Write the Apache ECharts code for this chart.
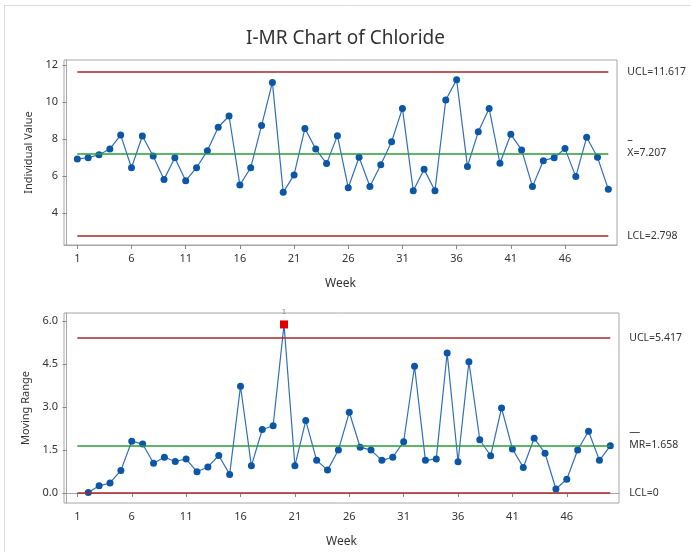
<!DOCTYPE html>
<html>
<head>
<meta charset="utf-8">
<title>I-MR Chart of Chloride</title>
<script src="https://cdn.jsdelivr.net/npm/echarts@6/dist/echarts.min.js"></script>
<style>
  html, body { margin: 0; padding: 0; background: #fff; }
  #chart { width: 691px; height: 552px; }
</style>
</head>
<body>
<div id="chart"></div>
<script>
// data
const weeks = [1, 2, 3, 4, 5, 6, 7, 8, 9, 10, 11, 12, 13, 14, 15, 16, 17, 18, 19, 20,
  21, 22, 23, 24, 25, 26, 27, 28, 29, 30, 31, 32, 33, 34, 35, 36, 37, 38, 39, 40,
  41, 42, 43, 44, 45, 46, 47, 48, 49, 50]
const chloride = [6.93, 7.00, 7.16, 7.47, 8.22, 6.46, 8.17, 7.09, 5.83, 7.00,
  5.76, 6.46, 7.38, 8.64, 9.25, 5.53, 6.46, 8.73, 11.06, 5.13,
  6.07, 8.58, 7.47, 6.68, 8.19, 5.38, 7.02, 5.45, 6.62, 7.86,
  9.66, 5.22, 6.37, 5.22, 10.11, 11.21, 6.53, 8.40, 9.66, 6.70,
  8.26, 7.42, 5.44, 6.84, 7.00, 7.49, 5.98, 8.10, 7.02, 5.30]
// moving range starts at week 2
const movingRange = [0.02, 0.25, 0.35, 0.79, 1.81, 1.71, 1.04, 1.25, 1.10,
  1.19, 0.74, 0.91, 1.31, 0.65, 3.73, 0.95, 2.22, 2.35, 5.89,
  0.95, 2.53, 1.14, 0.80, 1.50, 2.82, 1.60, 1.50, 1.14, 1.25,
  1.79, 4.43, 1.14, 1.19, 4.89, 1.09, 4.59, 1.86, 1.30, 2.97,
  1.54, 0.89, 1.91, 1.39, 0.14, 0.48, 1.50, 2.16, 1.14, 1.65]
const outOfControl = [20]   // weeks flagged by test 1 on the MR chart
const xTicks = [1, 6, 11, 16, 21, 26, 31, 36, 41, 46]
const iTicks = [4, 6, 8, 10, 12]
const mrTicks = [0, 1.5, 3, 4.5, 6]
const iLimits = { ucl: 11.617, cl: 7.207, lcl: 2.798 }
const mrLimits = { ucl: 5.417, cl: 1.658, lcl: 0 }

const red = '#a3282b'
const green = '#2b9a3a'
const blue = '#0b56a6'
const frame = '#a6a6a6'
const txt = '#333'
const font = 'Noto Sans'

const chart = echarts.init(document.getElementById('chart'))

const first = weeks[0]
const last = weeks[weeks.length - 1]
// 控制限线, 从第一周画到最后一周, 标签在右边
function limitLine(y, color, label) {
  const twoLines = label.indexOf('\n') >= 0
  return [
    {
      coord: [first, y], lineStyle: { color },
      label: {
        formatter: label, lineHeight: 13,
        padding: twoLines ? [0, 0, 14, 0] : 0,
        rich: { bar: { fontSize: 11, lineHeight: 13, color: txt } },
      },
    },
    { coord: [last, y] },
  ]
}

function xAxisOf(idx) {
  return {
    type: 'value', gridIndex: idx, min: -0.23, max: 50.8,
    name: 'Week', nameLocation: 'middle', nameGap: 33,
    nameTextStyle: { color: txt, fontSize: 12, fontFamily: font },
    axisLine: { lineStyle: { color: frame } },
    axisTick: { length: 4, lineStyle: { color: '#888' }, customValues: xTicks },
    axisLabel: { customValues: xTicks, color: txt, fontSize: 11, fontFamily: font, margin: 8 },
    splitLine: { show: false },
  }
}

const labelStyle = {
  position: 'end', distance: 19, color: txt, fontSize: 10.5, fontFamily: font, align: 'left',
}

const option = {
  backgroundColor: '#fff',
  animation: false,
  title: {
    text: 'I-MR Chart of Chloride', left: 'center', top: 24,
    textStyle: { color: txt, fontSize: 19, fontWeight: 'normal', fontFamily: font },
  },
  graphic: [{
    type: 'rect', shape: { x: 4.5, y: 5.5, width: 720, height: 600 },
    style: { fill: 'none', stroke: '#dcdcdc', lineWidth: 1 }, silent: true,
  }],
  grid: [
    { left: 64, top: 60, width: 553, height: 185, show: true, borderColor: frame, borderWidth: 1 },
    { left: 64, top: 313, width: 555, height: 190, show: true, borderColor: frame, borderWidth: 1 },
  ],
  xAxis: [xAxisOf(0), xAxisOf(1)],
  yAxis: [
    {
      type: 'value', gridIndex: 0, min: 2.29, max: 12.27,
      name: 'Individual Value', nameLocation: 'middle', nameGap: 26,
      nameTextStyle: { color: txt, fontSize: 11, fontFamily: font },
      axisLine: { show: true, lineStyle: { color: frame } },
      axisTick: { show: true, length: 4, lineStyle: { color: '#888' }, customValues: iTicks },
      axisLabel: { customValues: iTicks, color: txt, fontSize: 11, fontFamily: font, margin: 6 },
      splitLine: { show: false },
    },
    {
      type: 'value', gridIndex: 1, min: -0.35, max: 6.29,
      name: 'Moving Range', nameLocation: 'middle', nameGap: 29,
      nameTextStyle: { color: txt, fontSize: 11, fontFamily: font },
      axisLine: { show: true, lineStyle: { color: frame } },
      axisTick: { show: true, length: 4, lineStyle: { color: '#888' }, customValues: mrTicks },
      axisLabel: {
        customValues: mrTicks, color: txt, fontSize: 11, fontFamily: font, margin: 6,
        formatter: v => v.toFixed(1),
      },
      splitLine: { show: false },
    },
  ],
  series: [
    {
      name: 'Individual Value',
      type: 'line', xAxisIndex: 0, yAxisIndex: 0,
      data: weeks.map((w, i) => [w, chloride[i]]),
      symbol: 'circle', symbolSize: 7,
      lineStyle: { color: '#2f6fba', width: 1.2 },
      itemStyle: { color: blue },
      z: 3,
      markLine: {
        silent: true, symbol: 'none',
        lineStyle: { width: 1.6, type: 'solid' },
        label: labelStyle,
        data: [
          limitLine(iLimits.ucl, red, 'UCL=' + iLimits.ucl),
          limitLine(iLimits.cl, green, '{bar|–}\nX=' + iLimits.cl),
          limitLine(iLimits.lcl, red, 'LCL=' + iLimits.lcl),
        ],
      },
    },
    {
      name: 'Moving Range',
      type: 'line', xAxisIndex: 1, yAxisIndex: 1,
      data: movingRange.map((v, i) => {
        const w = weeks[i + 1]
        if (outOfControl.includes(w)) {
          return {
            value: [w, v], symbol: 'rect', symbolSize: 8,
            itemStyle: { color: '#e00000' },
            label: { show: true, position: 'top', distance: 5, formatter: '1', fontSize: 8, color: '#888' },
          }
        }
        return [w, v]
      }),
      symbol: 'circle', symbolSize: 7,
      lineStyle: { color: '#2f6fba', width: 1.2 },
      itemStyle: { color: blue },
      z: 3,
      markLine: {
        silent: true, symbol: 'none',
        lineStyle: { width: 1.6, type: 'solid' },
        label: labelStyle,
        data: [
          limitLine(mrLimits.ucl, red, 'UCL=' + mrLimits.ucl),
          limitLine(mrLimits.cl, green, '{bar|—}\nMR=' + mrLimits.cl),
          limitLine(mrLimits.lcl, red, 'LCL=' + mrLimits.lcl),
        ],
      },
    },
  ],
}

chart.setOption(option)
</script>
</body>
</html>
